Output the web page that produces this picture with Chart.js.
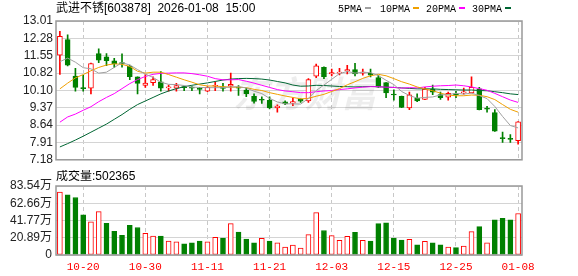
<!DOCTYPE html>
<html lang="zh">
<head>
<meta charset="UTF-8">
<title>武进不锈 K线</title>
<script src="https://cdn.jsdelivr.net/npm/chart.js"></script>
<style>
    body { margin: 0; background: #fff; }
    #wrap { position: relative; width: 578px; height: 276px; }
    #kline { position: absolute; left: 0; top: 0; }
    #vol { position: absolute; left: 0; top: 170px; }
</style>
</head>
<body>
<div id="wrap">
    <canvas id="kline" width="578" height="170"></canvas>
    <canvas id="vol" width="578" height="106"></canvas>
</div>
<script>
// trading days
const dates = ['10-15','10-16','10-17','10-20','10-21','10-22','10-23','10-24','10-27','10-28',
    '10-29','10-30','10-31','11-03','11-04','11-05','11-06','11-07','11-10','11-11',
    '11-12','11-13','11-14','11-17','11-18','11-19','11-20','11-21','11-24','11-25',
    '11-26','11-27','11-28','12-01','12-02','12-03','12-04','12-05','12-08','12-09',
    '12-10','12-11','12-12','12-15','12-16','12-17','12-18','12-19','12-22','12-23',
    '12-24','12-25','12-26','12-29','12-30','12-31','01-05','01-06','01-07','01-08'];
const dateTicks = ['10-20','10-30','11-11','11-21','12-03','12-15','12-25','01-08'];

const openP = [11.57,12.23,10.70,10.20,10.19,11.64,11.50,11.34,11.26,11.12,
    10.66,10.30,10.42,10.46,10.20,10.19,10.24,10.22,10.18,10.06,
    10.27,10.25,10.27,10.22,10.11,9.85,9.71,9.68,9.36,9.62,
    9.56,9.72,9.65,10.69,11.06,10.79,10.82,10.91,10.97,10.82,
    10.81,10.63,10.42,9.94,9.85,9.36,9.76,9.72,10.14,9.92,
    9.81,9.94,9.99,9.99,10.16,9.33,9.16,8.10,8.06,7.98];
const highP = [12.58,12.43,11.02,10.73,11.24,11.84,11.64,11.44,11.63,11.16,
    10.66,10.76,10.66,10.89,10.32,10.39,10.26,10.26,10.22,10.26,
    10.46,10.39,10.82,10.30,10.19,9.95,9.83,9.82,9.49,9.66,
    9.78,9.74,10.59,11.20,11.08,10.99,11.02,11.15,11.23,10.99,
    10.99,10.73,10.42,10.12,9.86,10.02,9.95,10.22,10.32,10.02,
    10.02,10.06,10.19,10.66,10.22,9.43,9.29,8.34,8.24,8.79];
const lowP = [10.77,11.12,10.06,10.06,9.95,11.26,11.13,11.06,11.07,10.55,
    9.95,10.22,10.30,10.06,10.06,10.06,10.08,10.08,9.95,10.04,
    10.08,10.06,10.06,9.88,9.83,9.56,9.55,9.32,9.18,9.50,
    9.45,9.59,9.59,10.63,10.59,10.70,10.75,10.79,10.70,10.73,
    10.66,10.22,9.79,9.68,9.37,9.29,9.62,9.71,9.92,9.72,
    9.68,9.79,9.94,9.99,9.28,9.18,8.37,7.91,7.91,7.84];
const closeP = [12.37,11.15,10.22,10.17,11.22,11.36,11.34,11.22,11.21,10.67,
    10.39,10.40,10.55,10.19,10.24,10.30,10.21,10.19,10.14,10.22,
    10.31,10.18,10.35,10.19,9.96,9.63,9.68,9.36,9.44,9.53,
    9.63,9.64,10.55,11.13,10.66,10.84,10.86,10.97,10.79,10.86,
    10.73,10.23,9.99,9.90,9.38,9.91,9.65,10.15,10.02,9.79,
    9.97,9.92,10.02,10.22,9.29,9.31,8.38,8.07,8.04,8.78];

// volume, 万股
const volume = [76.1,72.7,69.6,48.7,40.2,52.6,38.3,28.6,23.9,35.9,
    33.3,26.3,22.8,22.8,17.0,15.9,13.5,14.7,17.0,15.9,
    21.3,20.5,37.9,27.9,19.3,14.7,20.1,17.0,14.7,9.7,
    12.0,8.5,24.7,51.4,29.7,23.5,17.8,22.5,27.5,17.8,
    17.0,37.9,39.0,20.5,18.1,18.9,12.4,16.6,14.7,12.4,
    9.7,8.9,10.8,28.3,34.4,14.7,42.5,44.4,42.5,50.2365];

const ma5 = [11.30,11.45,11.28,11.05,11.00,10.82,10.86,11.06,11.26,11.16,
    10.97,10.78,10.64,10.44,10.35,10.34,10.30,10.23,10.22,10.21,
    10.21,10.21,10.24,10.25,10.20,10.06,9.96,9.76,9.61,9.53,
    9.53,9.52,9.76,10.09,10.32,10.56,10.80,10.89,10.82,10.86,
    10.84,10.72,10.52,10.34,10.05,9.88,9.77,9.80,9.82,9.90,
    9.92,9.97,9.94,9.98,9.88,9.75,9.42,9.00,8.62,8.52];
const ma10 = [10.16,10.40,10.62,10.76,10.92,11.06,11.16,11.21,11.19,11.10,
    10.90,10.82,10.86,10.86,10.76,10.65,10.54,10.44,10.33,10.28,
    10.28,10.25,10.23,10.23,10.21,10.14,10.09,10.00,9.93,9.86,
    9.80,9.74,9.76,9.85,9.93,10.05,10.17,10.33,10.46,10.60,
    10.71,10.77,10.71,10.59,10.46,10.36,10.24,10.16,10.08,9.98,
    9.90,9.87,9.87,9.90,9.89,9.83,9.71,9.50,9.30,9.18];
const ma20 = [8.76,8.98,9.10,9.26,9.41,9.62,9.80,9.96,10.17,10.38,
    10.55,10.68,10.77,10.81,10.82,10.83,10.83,10.80,10.75,10.69,
    10.59,10.54,10.54,10.55,10.48,10.40,10.31,10.22,10.13,10.07,
    10.04,10.00,10.00,10.04,10.07,10.09,10.13,10.16,10.20,10.23,
    10.25,10.25,10.23,10.22,10.19,10.21,10.20,10.24,10.27,10.29,
    10.30,10.32,10.29,10.24,10.17,10.10,9.97,9.83,9.69,9.59];
const ma30 = [7.72,7.86,8.01,8.17,8.34,8.51,8.68,8.88,9.08,9.30,
    9.50,9.65,9.80,9.95,10.07,10.17,10.25,10.31,10.36,10.41,
    10.47,10.53,10.57,10.59,10.60,10.59,10.57,10.53,10.47,10.41,
    10.32,10.27,10.28,10.31,10.30,10.28,10.26,10.25,10.24,10.25,
    10.26,10.25,10.23,10.22,10.20,10.18,10.16,10.16,10.16,10.14,
    10.13,10.12,10.11,10.11,10.09,10.08,10.04,10.00,9.95,9.92];

const priceTicks = [7.18, 7.91, 8.64, 9.37, 10.10, 10.82, 11.55, 12.28, 13.01];
const volTicks = [0, 20.89, 41.77, 62.66, 83.54];

const RED = '#ff0000';
const GREEN = '#008000';
const SANS = "'Liberation Sans','Noto Sans CJK SC',sans-serif";
const MONO = "'Liberation Mono',monospace";

// candle up = close >= open, volume up = close >= previous close
const candleUp = closeP.map((c, i) => c >= openP[i]);
const volUp = closeP.map((c, i) => i === 0 || c >= closeP[i - 1]);

const vGrid = ctx => dateTicks.includes(dates[ctx.index]) ? '#c8c8c8' : 'rgba(0,0,0,0)';

const frame = {
    id: 'frame',
    beforeDatasetsDraw(chart, args, opts) {
        if (!opts.watermark) return;
        const c = chart.ctx;
        c.save();
        c.font = "bold italic 36px 'Noto Sans CJK SC',sans-serif";
        c.fillStyle = 'rgba(0,0,0,0.07)';
        c.textAlign = 'center';
        c.textBaseline = 'middle';
        c.fillText('东方财富', 305, 93);
        c.restore();
    },
    afterDraw(chart, args, opts) {
        const c = chart.ctx;
        const a = chart.chartArea;
        c.save();
        c.strokeStyle = '#999';
        c.lineWidth = 1.5;
        c.strokeRect(a.left, a.top, a.right - a.left, a.bottom - a.top);
        c.fillStyle = '#000';
        c.textBaseline = 'middle';
        c.font = '12px ' + SANS;
        c.fillText(opts.title, 56, opts.titleY);
        if (opts.legend) {
            c.font = '10px ' + MONO;
            const items = [['5PMA', 338, 365, '#a0a0a0'], ['10PMA', 380, 413, '#f0a000'],
                ['20PMA', 426, 459, '#ff00ff'], ['30PMA', 472, 505, '#006633']];
            items.forEach(([t, tx, mx, col]) => {
                c.fillStyle = '#000';
                c.fillText(t, tx, 9);
                c.fillStyle = col;
                c.fillRect(mx, 7, 6, 2);
            });
        }
        c.restore();
    }
};

const maLine = (label, data, color) => ({
    type: 'line', label, data, borderColor: color, borderWidth: 1,
    pointRadius: 0, tension: 0, order: 0
});

new Chart(document.getElementById('kline'), {
    type: 'bar',
    data: {
        labels: dates,
        datasets: [
            maLine('MA5', ma5, '#a0a0a0'),
            maLine('MA10', ma10, '#f0a000'),
            maLine('MA20', ma20, '#ff00ff'),
            maLine('MA30', ma30, '#006633'),
            {
                label: 'body',
                data: dates.map((d, i) => [openP[i], closeP[i]]),
                backgroundColor: candleUp.map(u => u ? '#ffffff' : GREEN),
                borderColor: candleUp.map(u => u ? RED : GREEN),
                borderWidth: 1,
                borderSkipped: false,
                barThickness: 5,
                minBarLength: 1,
                grouped: false,
                order: 1
            },
            {
                label: 'wick',
                data: dates.map((d, i) => [lowP[i], highP[i]]),
                backgroundColor: candleUp.map(u => u ? RED : GREEN),
                barThickness: 1,
                grouped: false,
                order: 2
            }
        ]
    },
    options: {
        responsive: false,
        animation: false,
        layout: { padding: { top: 21, right: 56, bottom: 4, left: 0 } },
        plugins: {
            legend: { display: false },
            tooltip: { enabled: false },
            frame: { title: '武进不锈[603878]  2026-01-08  15:00', titleY: 9, legend: true, watermark: true }
        },
        scales: {
            x: {
                offset: true,
                ticks: { display: false },
                grid: { offset: false, drawTicks: false, color: vGrid },
                border: { display: false, dash: [4, 3] },
                afterFit: s => { s.height = 0; }
            },
            y: {
                min: 7.18,
                max: 13.01,
                afterBuildTicks: s => { s.ticks = priceTicks.map(v => ({ value: v })); },
                afterFit: s => { s.width = 56; },
                ticks: {
                    autoSkip: false, padding: 3, color: '#222',
                    font: { family: SANS, size: 12 },
                    callback: v => v.toFixed(2)
                },
                grid: { color: '#d4d4d4', drawTicks: false },
                border: { display: false }
            }
        }
    },
    plugins: [frame]
});

new Chart(document.getElementById('vol'), {
    type: 'bar',
    data: {
        labels: dates,
        datasets: [{
            label: 'volume',
            data: volume,
            backgroundColor: volUp.map(u => u ? '#ffffff' : GREEN),
            borderColor: volUp.map(u => u ? RED : GREEN),
            borderWidth: 1,
            borderSkipped: false,
            barThickness: 5
        }]
    },
    options: {
        responsive: false,
        animation: false,
        layout: { padding: { top: 16, right: 56, bottom: 0, left: 0 } },
        plugins: {
            legend: { display: false },
            tooltip: { enabled: false },
            frame: { title: '成交量:' + Math.round(volume[volume.length - 1] * 10000), titleY: 7 }
        },
        scales: {
            x: {
                offset: true,
                ticks: {
                    autoSkip: false, maxRotation: 0, padding: 5, color: RED,
                    font: { family: MONO, size: 11 },
                    callback: (v, i) => dateTicks.includes(dates[i]) ? dates[i] : ''
                },
                grid: { offset: false, drawTicks: false, color: vGrid },
                border: { display: false, dash: [4, 3] },
                afterFit: s => { s.height = 21; }
            },
            y: {
                min: 0,
                max: 83.54,
                afterBuildTicks: s => { s.ticks = volTicks.map(v => ({ value: v })); },
                afterFit: s => { s.width = 56; },
                ticks: {
                    autoSkip: false, padding: 4, color: '#222',
                    font: { family: SANS, size: 12 },
                    callback: v => v === 0 ? '0' : v.toFixed(2) + '万'
                },
                grid: { color: '#d4d4d4', drawTicks: false },
                border: { display: false }
            }
        }
    },
    plugins: [frame]
});
</script>
</body>
</html>
